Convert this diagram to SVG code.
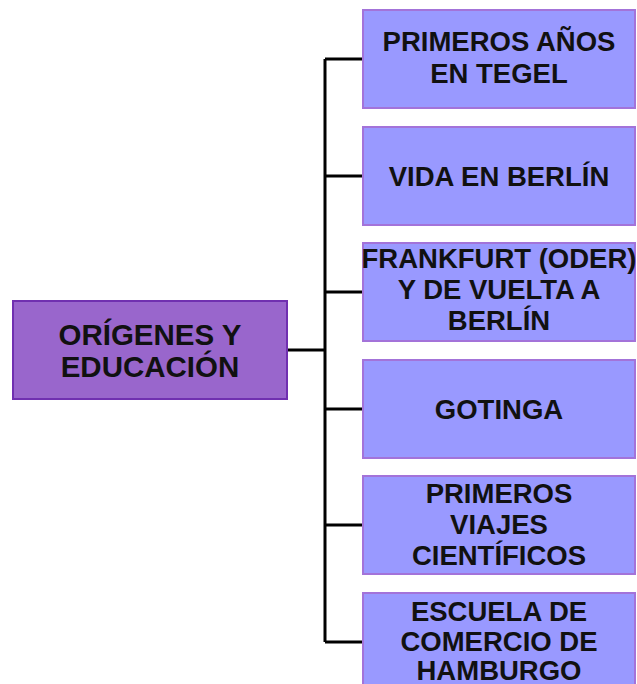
<svg xmlns="http://www.w3.org/2000/svg" width="637" height="684" viewBox="0 0 637 684">
<style>
.root{fill:#9966cc;stroke:#7030b0;stroke-width:2}
.leaf{fill:#9999ff;stroke:#a373d9;stroke-width:2}
text{font-family:"Liberation Sans",Arial,sans-serif;font-weight:bold;fill:#111;text-anchor:middle}
.rt{font-size:29.5px}
.lt{font-size:27.5px}
.con{fill:none;stroke:#000;stroke-width:3}
</style>
<g id="connectors">
<path class="con" d="M287 350H325M325 59V642M325 59H362M325 176H362M325 292H362M325 409H362M325 525H362M325 642H362"/>
</g>
<g id="n0"><rect class="root" x="13" y="301" width="274" height="98"/>
<text class="rt" x="150" y="345">ORÍGENES Y</text><text class="rt" x="150" y="377">EDUCACIÓN</text></g>
<g id="n1"><rect class="leaf" x="363" y="10" width="272" height="98"/>
<text class="lt" x="499" y="51">PRIMEROS AÑOS</text><text class="lt" x="499" y="83">EN TEGEL</text></g>
<g id="n2"><rect class="leaf" x="363" y="127" width="272" height="98"/>
<text class="lt" x="499" y="186">VIDA EN BERLÍN</text></g>
<g id="n3"><rect class="leaf" x="363" y="243" width="272" height="98"/>
<text class="lt" x="499" y="268">FRANKFURT (ODER)</text><text class="lt" x="499" y="299">Y DE VUELTA A</text><text class="lt" x="499" y="330">BERLÍN</text></g>
<g id="n4"><rect class="leaf" x="363" y="360" width="272" height="98"/>
<text class="lt" x="499" y="419">GOTINGA</text></g>
<g id="n5"><rect class="leaf" x="363" y="476" width="272" height="98"/>
<text class="lt" x="499" y="503">PRIMEROS</text><text class="lt" x="499" y="534">VIAJES</text><text class="lt" x="499" y="565">CIENTÍFICOS</text></g>
<g id="n6"><rect class="leaf" x="363" y="593" width="272" height="98"/>
<text class="lt" x="499" y="621">ESCUELA DE</text><text class="lt" x="499" y="651">COMERCIO DE</text><text class="lt" x="499" y="680">HAMBURGO</text></g>
</svg>
